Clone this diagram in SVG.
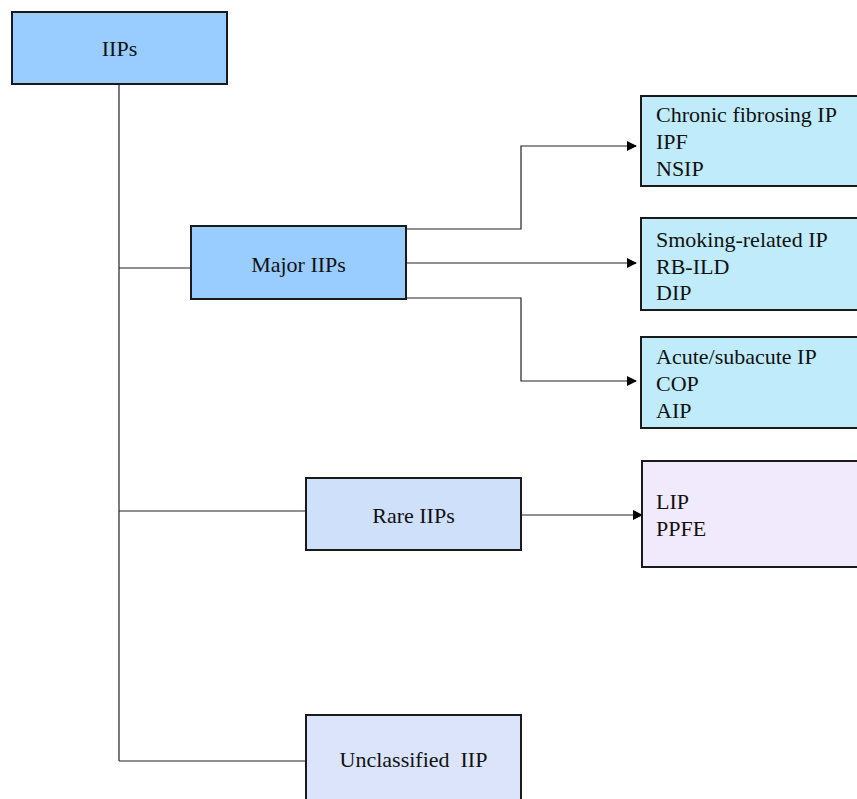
<svg xmlns="http://www.w3.org/2000/svg" width="857" height="799" viewBox="0 0 857 799">
<defs>
<marker id="arr" markerWidth="10" markerHeight="10" refX="9" refY="5" orient="auto" markerUnits="userSpaceOnUse">
<path d="M0,0 L10,5 L0,10 z" fill="#000"/>
</marker>
<style>
.box{stroke:#1a1a1a;stroke-width:2}
text{font-family:'Liberation Serif','Times New Roman',serif;font-size:22px;fill:#111}
.c{text-anchor:middle}
.ln{fill:none;stroke:#222;stroke-width:1.2}
</style>
</defs>
<rect width="857" height="799" fill="#fff"/>
<g id="connectors">
<path class="ln" d="M119,84 V761"/>
<path class="ln" d="M119,268 H191"/>
<path class="ln" d="M119,511 H306"/>
<path class="ln" d="M119,761 H306"/>
<path class="ln" d="M406,229 H521 V146 H636" marker-end="url(#arr)"/>
<path class="ln" d="M406,263 H636" marker-end="url(#arr)"/>
<path class="ln" d="M406,298 H521 V381 H636" marker-end="url(#arr)"/>
<path class="ln" d="M521,515 H642" marker-end="url(#arr)"/>
</g>
<g id="iips">
<rect class="box" x="12" y="12" width="215" height="72" fill="#99CCFF"/>
<text class="c" x="119.5" y="56">IIPs</text>
</g>
<g id="major">
<rect class="box" x="191" y="226" width="215" height="73" fill="#99CCFF"/>
<text class="c" x="298.5" y="272">Major IIPs</text>
</g>
<g id="rare">
<rect class="box" x="306" y="478" width="215" height="72" fill="#CFE0FB"/>
<text class="c" x="413.5" y="523">Rare IIPs</text>
</g>
<g id="unclassified">
<rect class="box" x="306" y="715" width="215" height="90" fill="#DCE4FB"/>
<text class="c" x="413.5" y="767" xml:space="preserve">Unclassified  IIP</text>
</g>
<g id="chronic">
<rect class="box" x="641" y="96" width="220" height="90" fill="#BFEBFB"/>
<text x="656" y="122">Chronic fibrosing IP</text>
<text x="656" y="149">IPF</text>
<text x="656" y="176">NSIP</text>
</g>
<g id="smoking">
<rect class="box" x="641" y="218" width="220" height="92" fill="#BFEBFB"/>
<text x="656" y="247">Smoking-related IP</text>
<text x="656" y="274">RB-ILD</text>
<text x="656" y="300">DIP</text>
</g>
<g id="acute">
<rect class="box" x="641" y="337" width="220" height="91" fill="#BFEBFB"/>
<text x="656" y="364">Acute/subacute IP</text>
<text x="656" y="391">COP</text>
<text x="656" y="418">AIP</text>
</g>
<g id="rare-types">
<rect class="box" x="642" y="461" width="220" height="106" fill="#F0EAFC"/>
<text x="656" y="509">LIP</text>
<text x="656" y="536">PPFE</text>
</g>
</svg>
